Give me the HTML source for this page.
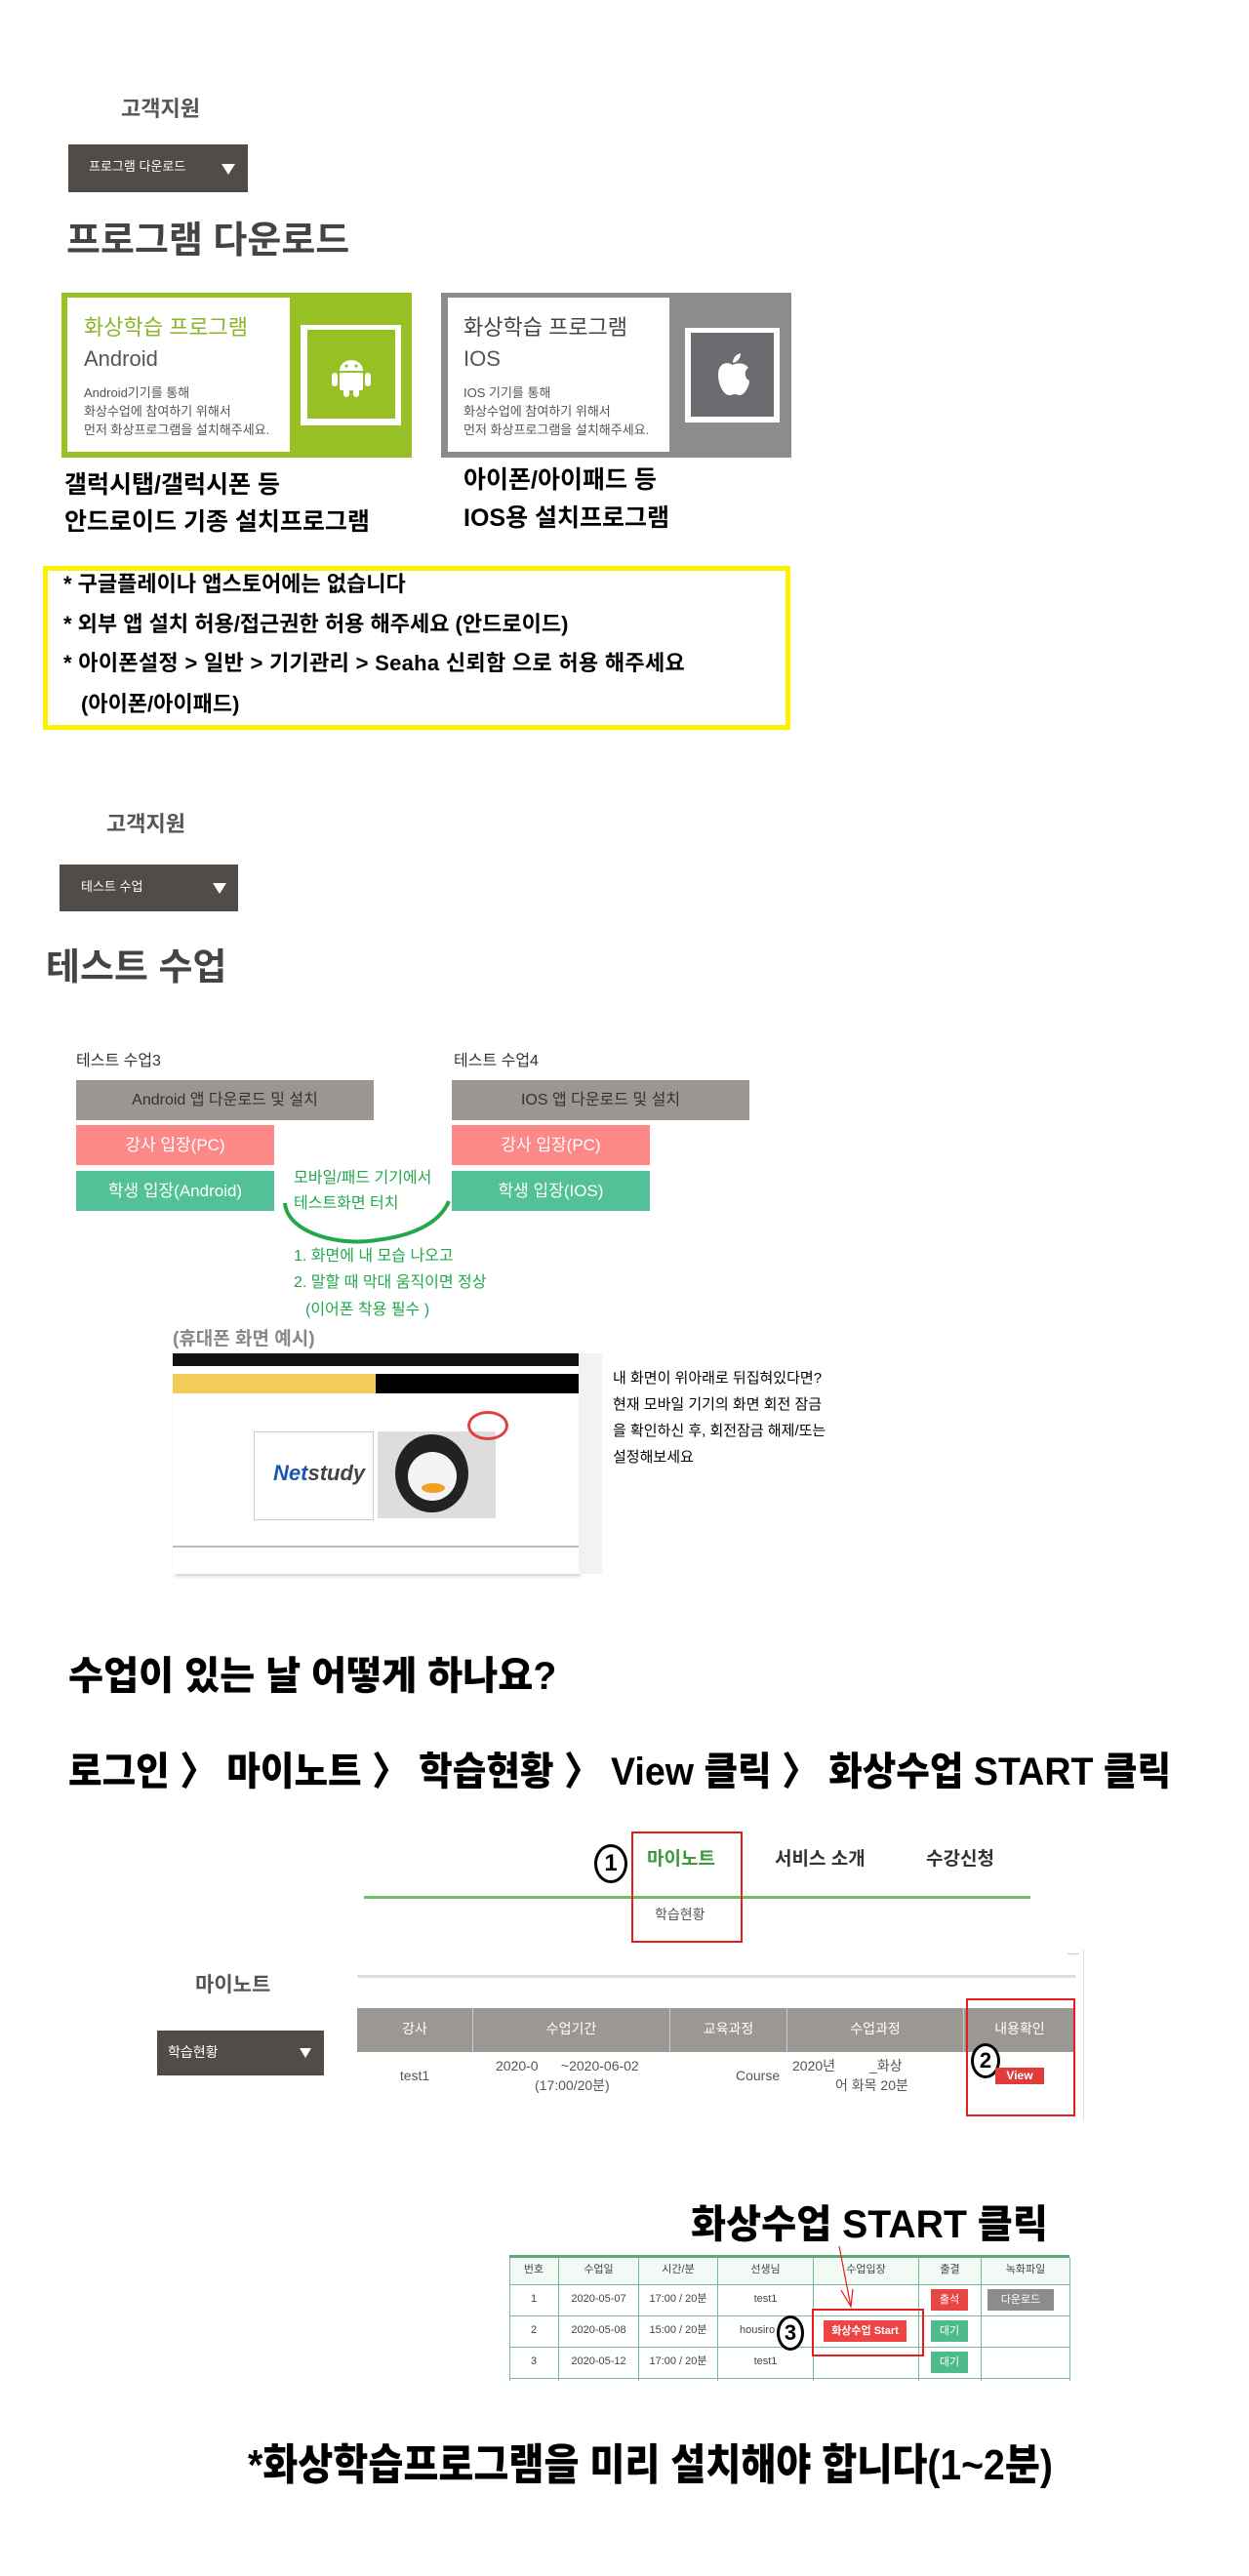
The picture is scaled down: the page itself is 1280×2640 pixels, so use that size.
<!DOCTYPE html>
<html><head><meta charset="utf-8">
<style>
body{margin:0;width:1280px;height:2640px;background:#fff;position:relative;overflow:hidden;font-family:"Liberation Sans","Noto Sans CJK KR",sans-serif;}
.a{position:absolute;white-space:nowrap;line-height:1.2;}
.b{position:absolute;}
.hv{font-weight:900;color:#000;transform-origin:left center;}
</style></head><body>

<!-- Section 1 -->
<div class="a" style="left:124px;top:99px;font-size:22px;font-weight:bold;color:#555;">고객지원</div>
<div class="b" style="left:70px;top:148px;width:184px;height:49px;background:#514c48;"></div>
<div class="a" style="left:91px;top:163px;font-size:13px;color:#fff;">프로그램 다운로드</div>
<div class="b" style="left:227px;top:168px;width:0;height:0;border-left:7px solid transparent;border-right:7px solid transparent;border-top:11px solid #fff;"></div>
<div class="a" style="left:68px;top:225px;font-size:38px;font-weight:bold;color:#444;">프로그램 다운로드</div>

<div class="b" style="left:63px;top:300px;width:359px;height:169px;background:#97c024;"></div>
<div class="b" style="left:69px;top:305px;width:228px;height:158px;background:#fff;"></div>
<div class="b" style="left:308px;top:333px;width:103px;height:103px;background:#fff;"></div>
<div class="b" style="left:315px;top:338px;width:90px;height:91px;background:#97c024;"></div>
<svg class="b" style="left:336px;top:360px" width="48" height="48" viewBox="0 0 48 48"><path d="M12 20 A12 11 0 0 1 36 20 Z" fill="#fff"/><rect x="12" y="22" width="24" height="18" rx="2" fill="#fff"/><rect x="4" y="22" width="6" height="14" rx="3" fill="#fff"/><rect x="38" y="22" width="6" height="14" rx="3" fill="#fff"/><rect x="16" y="36" width="6" height="11" rx="3" fill="#fff"/><rect x="26" y="36" width="6" height="11" rx="3" fill="#fff"/><circle cx="19" cy="15" r="1.6" fill="#97c024"/><circle cx="29" cy="15" r="1.6" fill="#97c024"/></svg>
<div class="a" style="left:86px;top:323px;font-size:22px;color:#8ab52a;">화상학습 프로그램</div>
<div class="a" style="left:86px;top:355px;font-size:22px;color:#555;">Android</div>
<div class="a" style="left:86px;top:393px;font-size:13px;color:#555;line-height:19px;">Android기기를 통해<br>화상수업에 참여하기 위해서<br>먼저 화상프로그램을 설치해주세요.</div>

<div class="b" style="left:452px;top:300px;width:359px;height:169px;background:#8c8c8c;"></div>
<div class="b" style="left:459px;top:305px;width:227px;height:158px;background:#fff;"></div>
<div class="b" style="left:702px;top:336px;width:97px;height:97px;background:#fff;"></div>
<div class="b" style="left:708px;top:341px;width:85px;height:86px;background:#6b6b70;"></div>
<svg class="b" style="left:730px;top:360px" width="42" height="48" viewBox="0 0 42 48"><path d="M21 14 C15 10 6 12 6 24 C6 36 13 46 18 45 C20 45 21 44 23 44 C25 44 26 45 28 45 C33 45 38 36 38 30 C33 28 32 20 37 17 C34 12 26 11 21 14 Z" fill="#fff"/><path d="M21 12 C21 6 25 3 29 2 C29 7 26 11 21 12 Z" fill="#fff"/></svg>
<div class="a" style="left:475px;top:323px;font-size:22px;color:#444;">화상학습 프로그램</div>
<div class="a" style="left:475px;top:355px;font-size:22px;color:#555;">IOS</div>
<div class="a" style="left:475px;top:393px;font-size:13px;color:#555;line-height:19px;">IOS 기기를 통해<br>화상수업에 참여하기 위해서<br>먼저 화상프로그램을 설치해주세요.</div>

<div class="a" style="left:66px;top:482px;font-size:25px;font-weight:bold;color:#000;">갤럭시탭/갤럭시폰 등</div>
<div class="a" style="left:66px;top:520px;font-size:25px;font-weight:bold;color:#000;">안드로이드 기종 설치프로그램</div>
<div class="a" style="left:475px;top:477px;font-size:25px;font-weight:bold;color:#000;">아이폰/아이패드 등</div>
<div class="a" style="left:475px;top:516px;font-size:25px;font-weight:bold;color:#000;">IOS용 설치프로그램</div>

<div class="b" style="left:44px;top:580px;width:756px;height:158px;border:5px solid #ffef00;"></div>
<div class="a" style="left:65px;top:586px;font-size:22px;font-weight:bold;color:#000;">* 구글플레이나 앱스토어에는 없습니다</div>
<div class="a" style="left:65px;top:627px;font-size:22px;font-weight:bold;color:#000;">* 외부 앱 설치 허용/접근권한 허용 해주세요 (안드로이드)</div>
<div class="a" style="left:65px;top:667px;font-size:22px;font-weight:bold;color:#000;letter-spacing:0.3px;">* 아이폰설정 &gt; 일반 &gt; 기기관리 &gt; Seaha 신뢰함 으로 허용 해주세요</div>
<div class="a" style="left:83px;top:709px;font-size:22px;font-weight:bold;color:#000;">(아이폰/아이패드)</div>

<!-- Section 2 -->
<div class="a" style="left:109px;top:832px;font-size:22px;font-weight:bold;color:#555;">고객지원</div>
<div class="b" style="left:61px;top:886px;width:183px;height:48px;background:#514c48;"></div>
<div class="a" style="left:83px;top:901px;font-size:13px;color:#fff;">테스트 수업</div>
<div class="b" style="left:218px;top:905px;width:0;height:0;border-left:7px solid transparent;border-right:7px solid transparent;border-top:11px solid #fff;"></div>
<div class="a" style="left:47px;top:970px;font-size:38px;font-weight:bold;color:#444;">테스트 수업</div>

<div class="a" style="left:78px;top:1078px;font-size:16px;color:#333;">테스트 수업3</div>
<div class="b" style="left:78px;top:1107px;width:305px;height:41px;background:#9b9692;color:#333;font-size:16px;text-align:center;line-height:41px;">Android 앱 다운로드 및 설치</div>
<div class="b" style="left:78px;top:1153px;width:203px;height:41px;background:#fd8888;color:#fff;font-size:17px;text-align:center;line-height:41px;">강사 입장(PC)</div>
<div class="b" style="left:78px;top:1200px;width:203px;height:41px;background:#52c197;color:#fff;font-size:17px;text-align:center;line-height:41px;">학생 입장(Android)</div>
<div class="a" style="left:465px;top:1078px;font-size:16px;color:#333;">테스트 수업4</div>
<div class="b" style="left:463px;top:1107px;width:305px;height:41px;background:#9b9692;color:#333;font-size:16px;text-align:center;line-height:41px;">IOS 앱 다운로드 및 설치</div>
<div class="b" style="left:463px;top:1153px;width:203px;height:41px;background:#fd8888;color:#fff;font-size:17px;text-align:center;line-height:41px;">강사 입장(PC)</div>
<div class="b" style="left:463px;top:1200px;width:203px;height:41px;background:#52c197;color:#fff;font-size:17px;text-align:center;line-height:41px;">학생 입장(IOS)</div>

<div class="a" style="left:301px;top:1198px;font-size:16px;color:#22a84a;">모바일/패드 기기에서</div>
<div class="a" style="left:301px;top:1224px;font-size:16px;color:#22a84a;">테스트화면 터치</div>
<svg class="b" style="left:280px;top:1225px" width="190" height="55"><path d="M12 8 C15 40 70 52 105 46 C140 42 170 30 180 6" fill="none" stroke="#22a84a" stroke-width="4"/></svg>
<div class="a" style="left:301px;top:1278px;font-size:16px;color:#22a84a;">1. 화면에 내 모습 나오고</div>
<div class="a" style="left:301px;top:1305px;font-size:16px;color:#22a84a;">2. 말할 때 막대 움직이면 정상</div>
<div class="a" style="left:313px;top:1333px;font-size:16px;color:#22a84a;">(이어폰 착용 필수 )</div>
<div class="a" style="left:177px;top:1362px;font-size:19px;font-weight:bold;color:#888;">(휴대폰 화면 예시)</div>

<!-- phone screenshot -->
<div class="b" style="left:177px;top:1387px;width:416px;height:226px;background:#fff;box-shadow:2px 2px 4px #ccc;"></div>
<div class="b" style="left:177px;top:1387px;width:416px;height:13px;background:#111;"></div>
<div class="b" style="left:593px;top:1387px;width:24px;height:226px;background:#f2f2f2;"></div>
<div class="b" style="left:177px;top:1408px;width:208px;height:20px;background:#f2cd5c;"></div>
<div class="b" style="left:385px;top:1408px;width:208px;height:20px;background:#000;"></div>
<div class="b" style="left:260px;top:1467px;width:121px;height:89px;border:1px solid #ccc;background:#fff;"></div>
<div class="a" style="left:280px;top:1497px;font-size:22px;font-weight:bold;font-style:italic;color:#1a55b0;">Net<span style="color:#444">study</span></div>
<div class="b" style="left:387px;top:1467px;width:121px;height:89px;background:#ddd;"></div>
<div class="b" style="left:405px;top:1470px;width:75px;height:80px;border-radius:50%;background:#222;"></div>
<div class="b" style="left:418px;top:1488px;width:50px;height:50px;border-radius:50%;background:#f4f4f4;"></div>
<div class="b" style="left:432px;top:1520px;width:24px;height:10px;border-radius:50%;background:#f2a020;"></div>
<div class="b" style="left:479px;top:1446px;width:36px;height:24px;border:3px solid #e04040;border-radius:50%;"></div>
<div class="b" style="left:177px;top:1584px;width:416px;height:2px;background:#bbb;"></div>

<div class="a" style="left:628px;top:1399px;font-size:15px;color:#000;line-height:27px;">내 화면이 위아래로 뒤집혀있다면?<br>현재 모바일 기기의 화면 회전 잠금<br>을 확인하신 후, 회전잠금 해제/또는<br>설정해보세요</div>

<!-- Section 3 -->
<div class="a hv" style="left:70px;top:1694px;font-size:40px;transform:scaleX(0.98);">수업이 있는 날 어떻게 하나요?</div>
<div class="a hv" style="left:70px;top:1792px;font-size:40px;transform:scaleX(0.94);">로그인 〉 마이노트 〉 학습현황 〉 View 클릭 〉 화상수업 START 클릭</div>

<div class="b" style="left:373px;top:1943px;width:683px;height:3px;background:#6cbf62;"></div>
<div class="b" style="left:647px;top:1877px;width:110px;height:110px;border:2px solid #e81c1c;"></div>
<div class="b" style="left:609px;top:1890px;width:28px;height:34px;border:3px solid #000;border-radius:50%;font-size:24px;font-weight:bold;text-align:center;line-height:34px;">1</div>
<div class="a" style="left:663px;top:1895px;font-size:19px;font-weight:bold;color:#3a9a3a;">마이노트</div>
<div class="a" style="left:794px;top:1895px;font-size:19px;font-weight:bold;color:#333;">서비스 소개</div>
<div class="a" style="left:949px;top:1895px;font-size:19px;font-weight:bold;color:#333;">수강신청</div>
<div class="a" style="left:671px;top:1954px;font-size:14px;color:#555;">학습현황</div>

<div class="a" style="left:200px;top:2022px;font-size:21px;font-weight:bold;color:#555;">마이노트</div>
<div class="b" style="left:161px;top:2081px;width:171px;height:46px;background:#514c48;"></div>
<div class="a" style="left:172px;top:2095px;font-size:14px;color:#fff;">학습현황</div>
<div class="b" style="left:307px;top:2099px;width:0;height:0;border-left:6px solid transparent;border-right:6px solid transparent;border-top:10px solid #fff;"></div>

<div class="b" style="left:366px;top:2024px;width:736px;height:3px;background:#ddd;"></div>
<div class="b" style="left:1094px;top:2002px;width:12px;height:1px;background:#ccc;"></div>
<div class="b" style="left:1110px;top:1998px;width:1px;height:175px;background:#ddd;"></div>
<div class="b" style="left:366px;top:2058px;width:736px;height:45px;background:#9b9792;"></div>
<div class="b" style="left:484px;top:2058px;width:1px;height:45px;background:#ccc;"></div>
<div class="b" style="left:686px;top:2058px;width:1px;height:45px;background:#ccc;"></div>
<div class="b" style="left:806px;top:2058px;width:1px;height:45px;background:#ccc;"></div>
<div class="b" style="left:987px;top:2058px;width:1px;height:45px;background:#ccc;"></div>
<div class="a" style="left:366px;top:2071px;width:118px;text-align:center;font-size:14px;color:#fff;">강사</div>
<div class="a" style="left:485px;top:2071px;width:201px;text-align:center;font-size:14px;color:#fff;">수업기간</div>
<div class="a" style="left:687px;top:2071px;width:119px;text-align:center;font-size:14px;color:#fff;">교육과정</div>
<div class="a" style="left:807px;top:2071px;width:180px;text-align:center;font-size:14px;color:#fff;">수업과정</div>
<div class="a" style="left:988px;top:2071px;width:114px;text-align:center;font-size:14px;color:#fff;">내용확인</div>
<div class="a" style="left:366px;top:2119px;width:118px;text-align:center;font-size:14px;color:#555;">test1</div>
<div class="a" style="left:508px;top:2109px;font-size:14px;color:#555;">2020-0 &nbsp;&nbsp;&nbsp;&nbsp;&nbsp;~2020-06-02</div>
<div class="a" style="left:548px;top:2129px;font-size:14px;color:#555;">(17:00/20분)</div>
<div class="a" style="left:754px;top:2119px;font-size:14px;color:#555;">Course</div>
<div class="a" style="left:812px;top:2109px;font-size:14px;color:#555;">2020년 &nbsp;&nbsp;&nbsp;&nbsp;&nbsp;&nbsp;&nbsp;&nbsp;_화상</div>
<div class="a" style="left:856px;top:2129px;font-size:14px;color:#555;">어 화목 20분</div>
<div class="b" style="left:990px;top:2048px;width:108px;height:117px;border:2px solid #e81c1c;"></div>
<div class="b" style="left:995px;top:2094px;width:24px;height:30px;border:3px solid #000;border-radius:50%;font-size:22px;font-weight:bold;text-align:center;line-height:30px;background:#fff;">2</div>
<div class="b" style="left:1020px;top:2119px;width:50px;height:17px;background:#e23b3b;color:#fff;font-size:12px;font-weight:bold;text-align:center;line-height:17px;">View</div>

<div class="a hv" style="left:708px;top:2256px;font-size:40px;transform:scaleX(0.98);">화상수업 START 클릭</div>
<div class="b" style="left:522px;top:2311px;width:574px;height:130px;background:#fff;border-top:3px solid #5aa87c;"></div>
<div class="b" style="left:522px;top:2314px;width:574px;height:27px;background:#f3faf6;"></div>
<div class="b" style="left:522px;top:2341px;width:574px;height:1px;background:#7bb897;"></div>
<div class="b" style="left:522px;top:2373px;width:574px;height:1px;background:#7bb897;"></div>
<div class="b" style="left:522px;top:2405px;width:574px;height:1px;background:#7bb897;"></div>
<div class="b" style="left:522px;top:2437px;width:574px;height:1px;background:#7bb897;"></div>
<div class="b" style="left:522px;top:2314px;width:1px;height:126px;background:#7bb897;"></div>
<div class="b" style="left:572px;top:2314px;width:1px;height:126px;background:#7bb897;"></div>
<div class="b" style="left:654px;top:2314px;width:1px;height:126px;background:#7bb897;"></div>
<div class="b" style="left:735px;top:2314px;width:1px;height:126px;background:#7bb897;"></div>
<div class="b" style="left:833px;top:2314px;width:1px;height:126px;background:#7bb897;"></div>
<div class="b" style="left:941px;top:2314px;width:1px;height:126px;background:#7bb897;"></div>
<div class="b" style="left:1005px;top:2314px;width:1px;height:126px;background:#7bb897;"></div>
<div class="b" style="left:1096px;top:2314px;width:1px;height:126px;background:#7bb897;"></div>
<div class="a" style="left:522px;top:2320px;width:50px;text-align:center;font-size:11px;color:#444;">번호</div>
<div class="a" style="left:573px;top:2320px;width:81px;text-align:center;font-size:11px;color:#444;">수업일</div>
<div class="a" style="left:655px;top:2320px;width:80px;text-align:center;font-size:11px;color:#444;">시간/분</div>
<div class="a" style="left:736px;top:2320px;width:97px;text-align:center;font-size:11px;color:#444;">선생님</div>
<div class="a" style="left:834px;top:2320px;width:107px;text-align:center;font-size:11px;color:#444;">수업입장</div>
<div class="a" style="left:942px;top:2320px;width:63px;text-align:center;font-size:11px;color:#444;">출결</div>
<div class="a" style="left:1006px;top:2320px;width:90px;text-align:center;font-size:11px;color:#444;">녹화파일</div>

<div class="a" style="left:522px;top:2350px;width:50px;text-align:center;font-size:11px;color:#444;">1</div>
<div class="a" style="left:573px;top:2350px;width:81px;text-align:center;font-size:11px;color:#444;">2020-05-07</div>
<div class="a" style="left:655px;top:2350px;width:80px;text-align:center;font-size:11px;color:#444;">17:00 / 20분</div>
<div class="a" style="left:736px;top:2350px;width:97px;text-align:center;font-size:11px;color:#444;">test1</div>
<div class="a" style="left:522px;top:2382px;width:50px;text-align:center;font-size:11px;color:#444;">2</div>
<div class="a" style="left:573px;top:2382px;width:81px;text-align:center;font-size:11px;color:#444;">2020-05-08</div>
<div class="a" style="left:655px;top:2382px;width:80px;text-align:center;font-size:11px;color:#444;">15:00 / 20분</div>
<div class="a" style="left:758px;top:2382px;font-size:11px;color:#444;">housiro</div>
<div class="a" style="left:522px;top:2414px;width:50px;text-align:center;font-size:11px;color:#444;">3</div>
<div class="a" style="left:573px;top:2414px;width:81px;text-align:center;font-size:11px;color:#444;">2020-05-12</div>
<div class="a" style="left:655px;top:2414px;width:80px;text-align:center;font-size:11px;color:#444;">17:00 / 20분</div>
<div class="a" style="left:736px;top:2414px;width:97px;text-align:center;font-size:11px;color:#444;">test1</div>

<div class="b" style="left:954px;top:2346px;width:38px;height:22px;background:#e84545;color:#fff;font-size:11px;text-align:center;line-height:22px;">출석</div>
<div class="b" style="left:954px;top:2378px;width:38px;height:22px;background:#4fbb8b;color:#fff;font-size:11px;text-align:center;line-height:22px;">대기</div>
<div class="b" style="left:954px;top:2410px;width:38px;height:22px;background:#4fbb8b;color:#fff;font-size:11px;text-align:center;line-height:22px;">대기</div>
<div class="b" style="left:1012px;top:2346px;width:68px;height:22px;background:#8c8c8c;color:#fff;font-size:11px;text-align:center;line-height:22px;">다운로드</div>
<div class="b" style="left:844px;top:2378px;width:85px;height:22px;background:#ef4444;color:#fff;font-size:11px;font-weight:bold;text-align:center;line-height:22px;">화상수업 Start</div>
<div class="b" style="left:832px;top:2366px;width:111px;height:45px;border:2px solid #e81c1c;"></div>
<div class="b" style="left:796px;top:2373px;width:22px;height:30px;border:3px solid #000;border-radius:50%;font-size:22px;font-weight:bold;text-align:center;line-height:30px;background:#fff;">3</div>
<svg class="b" style="left:850px;top:2300px" width="40" height="70"><path d="M10 2 L22 64 M12 47 L22 64 L24 46" fill="none" stroke="#e81c1c" stroke-width="1.2"/></svg>

<div class="a hv" style="left:254px;top:2501px;font-size:44px;transform:scaleX(0.89);">*화상학습프로그램을 미리 설치해야 합니다(1~2분)</div>

</body></html>
